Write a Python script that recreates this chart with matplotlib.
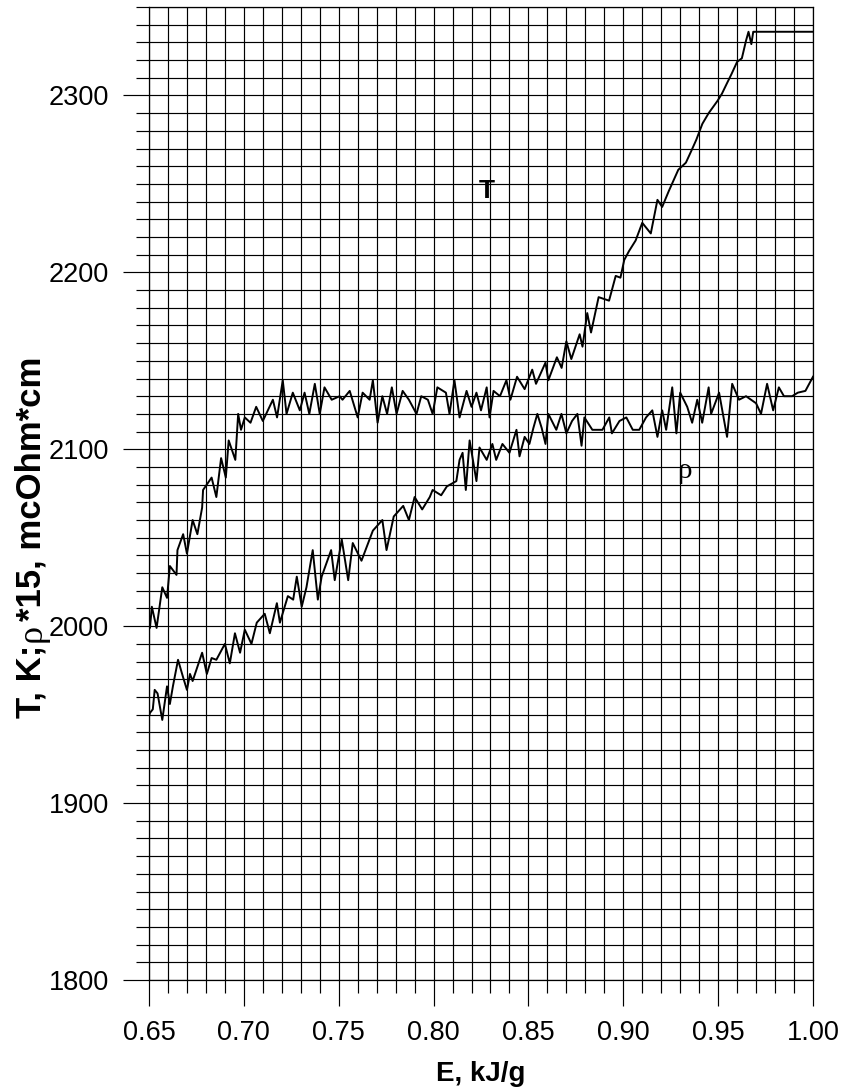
import numpy as np
import matplotlib.pyplot as plt
from matplotlib.ticker import MultipleLocator

plt.rcParams['font.family'] = ['Liberation Sans', 'DejaVu Sans']

# T curve, E in kJ/g, T in K
t_e = [0.6500, 0.6505, 0.6515, 0.6540, 0.6570, 0.6595, 0.6610, 0.6645, 0.6650, 0.6680,
       0.6700, 0.6730, 0.6755, 0.6780, 0.6785, 0.6830, 0.6855, 0.6880, 0.6905, 0.6920,
       0.6955, 0.6970, 0.6985, 0.7005, 0.7035, 0.7065, 0.7100, 0.7153, 0.7175, 0.7205,
       0.7225, 0.7258, 0.7295, 0.7320, 0.7345, 0.7374, 0.7400, 0.7425, 0.7463, 0.7505,
       0.7520, 0.7558, 0.7600, 0.7626, 0.7663, 0.7680, 0.7705, 0.7730, 0.7755, 0.7780,
       0.7805, 0.7837, 0.7870, 0.7910, 0.7935, 0.7970, 0.7995, 0.8020, 0.8065, 0.8084,
       0.8110, 0.8137, 0.8174, 0.8200, 0.8226, 0.8250, 0.8280, 0.8295, 0.8316, 0.8350,
       0.8384, 0.8405, 0.8440, 0.8480, 0.8520, 0.8540, 0.8590, 0.8605, 0.8650, 0.8675,
       0.8700, 0.8726, 0.8770, 0.8785, 0.8810, 0.8830, 0.8870, 0.8925, 0.8960, 0.8985,
       0.9005, 0.9030, 0.9065, 0.9100, 0.9145, 0.9180, 0.9205, 0.9240, 0.9290, 0.9330,
       0.9360, 0.9385, 0.9417, 0.9450, 0.9497, 0.9520, 0.9547, 0.9570, 0.9600, 0.9625,
       0.9647, 0.9660, 0.9675, 0.9685, 0.9690, 1.0000]
t_val = [2000, 1999, 2011, 1999, 2022, 2016, 2034, 2029, 2043, 2052,
         2041, 2060, 2052, 2067, 2077, 2084, 2073, 2095, 2084, 2105,
         2094, 2120, 2111, 2118, 2115, 2124, 2116, 2128, 2118, 2139,
         2120, 2132, 2122, 2132, 2120, 2137, 2120, 2135, 2128, 2130,
         2128, 2133, 2118, 2132, 2128, 2139, 2115, 2130, 2120, 2135,
         2120, 2133, 2128, 2120, 2130, 2128, 2120, 2135, 2132, 2120,
         2139, 2118, 2133, 2124, 2132, 2122, 2135, 2118, 2133, 2130,
         2139, 2128, 2141, 2134, 2145, 2137, 2149, 2139, 2152, 2146,
         2161, 2151, 2165, 2158, 2177, 2166, 2186, 2184, 2198, 2197,
         2207, 2212, 2218, 2228, 2222, 2241, 2237, 2246, 2258, 2262,
         2269, 2275, 2284, 2290, 2297, 2301, 2307, 2312, 2319, 2321,
         2331, 2336, 2329, 2336, 2336, 2336]

# rho*15 curve, mcOhm*cm
r_e = [0.6500, 0.6505, 0.6520, 0.6530, 0.6545, 0.6570, 0.6595, 0.6610, 0.6626, 0.6653,
       0.6680, 0.6700, 0.6716, 0.6730, 0.6780, 0.6805, 0.6830, 0.6855, 0.6900, 0.6926,
       0.6953, 0.6980, 0.7005, 0.7040, 0.7068, 0.7110, 0.7137, 0.7174, 0.7190, 0.7232,
       0.7260, 0.7279, 0.7305, 0.7330, 0.7363, 0.7390, 0.7410, 0.7460, 0.7479, 0.7516,
       0.7550, 0.7574, 0.7620, 0.7680, 0.7730, 0.7752, 0.7790, 0.7840, 0.7870, 0.7900,
       0.7940, 0.7980, 0.7995, 0.8040, 0.8070, 0.8120, 0.8137, 0.8153, 0.8170, 0.8190,
       0.8226, 0.8242, 0.8280, 0.8310, 0.8330, 0.8363, 0.8400, 0.8437, 0.8453, 0.8480,
       0.8505, 0.8526, 0.8547, 0.8570, 0.8590, 0.8605, 0.8647, 0.8674, 0.8700, 0.8730,
       0.8758, 0.8780, 0.8795, 0.8837, 0.8890, 0.8926, 0.8940, 0.8980, 0.9016, 0.9050,
       0.9084, 0.9120, 0.9153, 0.9180, 0.9205, 0.9226, 0.9258, 0.9280, 0.9300, 0.9337,
       0.9363, 0.9390, 0.9416, 0.9450, 0.9463, 0.9505, 0.9547, 0.9574, 0.9610, 0.9647,
       0.9700, 0.9726, 0.9758, 0.9790, 0.9820, 0.9847, 0.9890, 0.9920, 0.9960, 0.9990,
       1.0000]
r_val = [1949, 1951, 1953, 1964, 1962, 1947, 1966, 1956, 1966, 1981,
         1971, 1964, 1973, 1969, 1985, 1973, 1982, 1981, 1990, 1979,
         1996, 1985, 1998, 1990, 2002, 2007, 1996, 2013, 2002, 2017,
         2015, 2028, 2011, 2022, 2043, 2015, 2028, 2043, 2026, 2049,
         2026, 2047, 2037, 2054, 2060, 2043, 2062, 2068, 2060, 2073,
         2066, 2073, 2077, 2074, 2079, 2082, 2094, 2098, 2077, 2105,
         2082, 2101, 2094, 2103, 2094, 2103, 2098, 2111, 2096, 2107,
         2103, 2112, 2120, 2112, 2103, 2120, 2111, 2120, 2109, 2116,
         2120, 2102, 2118, 2111, 2111, 2118, 2109, 2116, 2118, 2111,
         2111, 2118, 2122, 2107, 2122, 2111, 2135, 2109, 2132, 2124,
         2115, 2128, 2115, 2135, 2120, 2132, 2107, 2137, 2128, 2130,
         2126, 2120, 2137, 2122, 2135, 2130, 2130, 2132, 2133, 2139,
         2141]

# y label pieces: bold sans, plain serif rho, bold sans
ylab_parts = ['T, K;', 'ρ', '*15, mcOhm*cm']

fig = plt.figure(figsize=(8.44, 10.88), dpi=100)
ax = fig.add_axes([149 / 844, 1 - 980 / 1088, 664 / 844, 973 / 1088])

ax.plot(t_e, t_val, color='black', lw=1.4)
ax.plot(r_e, r_val, color='black', lw=1.4)

ax.set_xlim(0.65, 1.00)
ax.set_ylim(1800, 2350)

ax.xaxis.set_major_locator(MultipleLocator(0.05))
ax.xaxis.set_minor_locator(MultipleLocator(0.01))
ax.yaxis.set_major_locator(MultipleLocator(100))
ax.yaxis.set_minor_locator(MultipleLocator(10))
ax.xaxis.set_major_formatter(plt.FormatStrFormatter('%.2f'))
ax.grid(True, which='both', color='black', lw=0.85)
ax.set_axisbelow(True)

ax.tick_params(which='major', direction='out', length=19, width=0.85,
               labelsize=19.5, pad=10, top=False, right=False)
ax.tick_params(which='minor', direction='out', length=9.5, width=0.85,
               top=False, right=False)
for s in ax.spines.values():
    s.set_linewidth(0.9)

ax.set_xlabel('E, kJ/g', fontsize=20, fontweight='bold')
ax.xaxis.set_label_coords(0.5, -0.083)

# rotated y label built from three pieces, laid end to end
renderer = fig.canvas.get_renderer()
W, H = fig.bbox.width, fig.bbox.height
ypos = 1088 - 718
styles = [dict(fontweight='bold'), dict(family='Liberation Serif', fontsize=26),
          dict(fontweight='bold')]
for part, st in zip(ylab_parts, styles):
    kw = dict(fontsize=25)
    kw.update(st)
    t = fig.text(41 / W, ypos / H, part, rotation=90, rotation_mode='anchor',
                 ha='left', va='baseline', **kw)
    bb = t.get_window_extent(renderer)
    ypos = bb.y1 + 3

ax.text(0.8279, 2246, 'T', fontsize=19, fontweight='bold', ha='center', va='center')
ax.text(0.932, 2088, 'ρ', fontsize=21, family='Liberation Serif', ha='center', va='center')

fig.savefig('out.png', dpi=100)
